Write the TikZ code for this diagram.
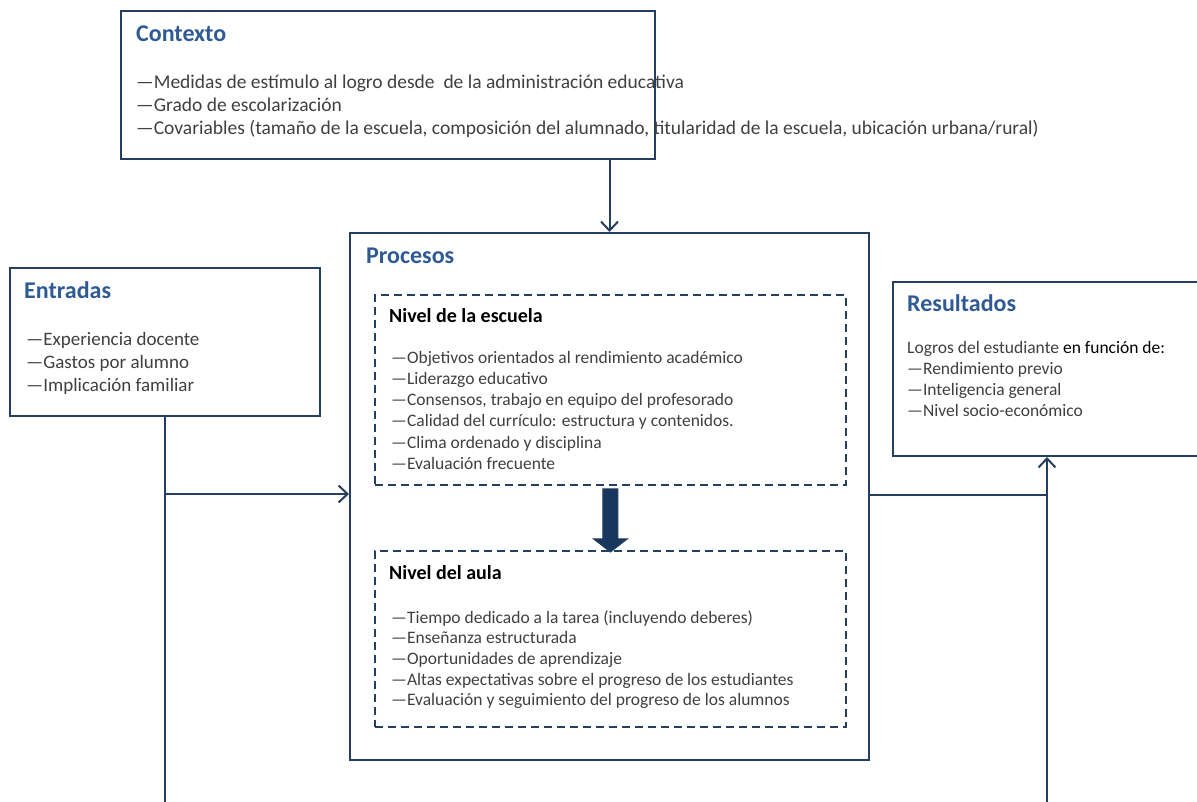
\documentclass[tikz,border=0pt]{standalone}
\usepackage{fontspec}
\setmainfont{Carlito}
\usetikzlibrary{arrows.meta}
\definecolor{navy}{HTML}{243F60}
\definecolor{ttlblue}{HTML}{2F5A94}
\definecolor{bodytxt}{HTML}{404040}
\definecolor{arrfill}{HTML}{17375E}
\begin{document}
\begin{tikzpicture}[x=1pt,y=-1pt,
  box/.style={draw=navy,line width=2pt,fill=white,anchor=north west,inner sep=0},
  dbox/.style={draw=navy,line width=1.8pt,dash pattern=on 8pt off 5pt,anchor=north west,inner sep=0},
  ttl/.style={anchor=base west,inner sep=0,text=ttlblue,font=\bfseries\fontsize{24}{29}\selectfont},
  sub/.style={anchor=base west,inner sep=0,text=black,font=\bfseries\fontsize{20}{24}\selectfont},
  body/.style={anchor=north west,inner sep=0,align=left,text=bodytxt},
  conn/.style={draw=navy,line width=2pt},
  tip/.style={-{Straight Barb[length=9pt,width=17pt]}}
]
\useasboundingbox (0,0) rectangle (1197,801);
\clip (0,0) rectangle (1197,801);

% boxes
\node[box,minimum width=534,minimum height=148] (ctx) at (120,10) {};
\node[box,minimum width=519,minimum height=527] (proc) at (349,232) {};
\node[box,minimum width=310,minimum height=148] (ent) at (9,267) {};
\node[box,minimum width=307,minimum height=174] (res) at (892,281) {};
\node[dbox,minimum width=471,minimum height=190] (lvl1) at (374,294) {};
\node[dbox,minimum width=471,minimum height=176] (lvl2) at (374,550) {};

% titles
\node[ttl] (tctx) at (136,41) {Contexto};
\node[ttl] (tent) at (24,298) {Entradas};
\node[ttl] (tproc) at (366,263) {Procesos};
\node[ttl] (tres) at (907,311) {Resultados};
\node[sub] (tl1) at (389,322) {Nivel de la escuela};
\node[sub] (tl2) at (389,579) {Nivel del aula};

% bodies
\node[body,font=\fontsize{19.5}{23.2}\selectfont] (bctx) at (136,71.8) {\strut—Medidas de estímulo al logro desde\ \ de la administración educativa\\
—Grado de escolarización\\
—Covariables (tamaño de la escuela, composición del alumnado, titularidad de la escuela, ubicación urbana/rural)};
\node[body,font=\fontsize{19}{23}\selectfont] (bent) at (26,328.9) {\strut—Experiencia docente\\
—Gastos por alumno\\
—Implicación familiar};
\node[body,font=\fontsize{17.5}{21}\selectfont] (bres) at (907,338.3) {\strut Logros del estudiante \textcolor{black}{en función de:}\\
—Rendimiento previo\\
—Inteligencia general\\
—Nivel socio-económico};
\node[body,font=\fontsize{17.5}{21.2}\selectfont] (bl1) at (391,348.2) {\strut—Objetivos orientados al rendimiento académico\\
—Liderazgo educativo\\
—Consensos, trabajo en equipo del profesorado\\
—Calidad del currículo: estructura y contenidos.\\
—Clima ordenado y disciplina\\
—Evaluación frecuente};
\node[body,font=\fontsize{17.5}{20.6}\selectfont] (bl2) at (391,608.6) {\strut—Tiempo dedicado a la tarea (incluyendo deberes)\\
—Enseñanza estructurada\\
—Oportunidades de aprendizaje\\
—Altas expectativas sobre el progreso de los estudiantes\\
—Evaluación y seguimiento del progreso de los alumnos};

% connectors
\draw[conn,tip] (ctx.south -| proc.north) -- (proc.north);
\coordinate (ebot) at (165,804);
\coordinate (ej) at (165,494);
\draw[conn] (ent.south -| ebot) -- (ebot);
\draw[conn,tip] (ej) -- (ej -| proc.west);
\coordinate (rbot) at (1047,804);
\coordinate (rj) at (1047,495);
\draw[conn,tip] (rbot) -- (rbot |- res.south);
\draw[conn] (rj -| proc.east) -- (rj);

% thick arrow between levels
\filldraw[fill=arrfill,draw=navy,line width=1pt]
  ([xshift=-7.5pt,yshift=-3pt]lvl1.south) -- ([xshift=7.5pt,yshift=-3pt]lvl1.south)
  -- ([xshift=7.5pt,yshift=-53pt]lvl1.south) -- ([xshift=17pt,yshift=-53pt]lvl1.south)
  -- ([yshift=-2pt]lvl2.north) -- ([xshift=-17pt,yshift=-53pt]lvl1.south)
  -- ([xshift=-7.5pt,yshift=-53pt]lvl1.south) -- cycle;
\end{tikzpicture}
\end{document}
